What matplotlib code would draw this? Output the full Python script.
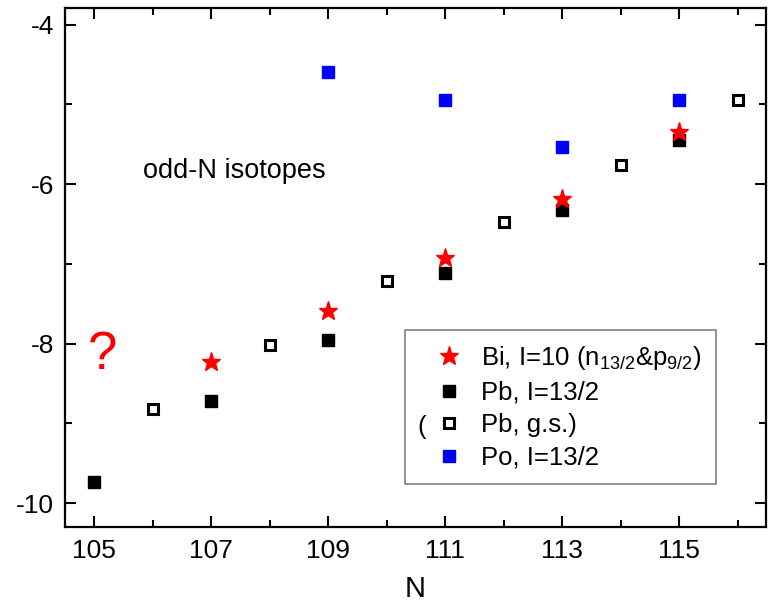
import matplotlib
matplotlib.use("Agg")
import matplotlib.pyplot as plt
from matplotlib.ticker import MultipleLocator
from matplotlib.lines import Line2D

plt.rcParams['font.family'] = ['Liberation Sans', 'DejaVu Sans']
plt.rcParams['mathtext.fontset'] = 'custom'
plt.rcParams['mathtext.rm'] = 'Liberation Sans'
plt.rcParams['mathtext.default'] = 'regular'
plt.rcParams['axes.unicode_minus'] = False

# data
bi_n = [107, 109, 111, 113, 115]
bi_v = [-8.23, -7.59, -6.93, -6.19, -5.35]

pb_n = [105, 107, 109, 111, 113, 115]
pb_v = [-9.74, -8.72, -7.95, -7.11, -6.32, -5.44]

pbgs_n = [106, 108, 110, 112, 114, 116]
pbgs_v = [-8.82, -8.02, -7.21, -6.48, -5.76, -4.95]

po_n = [109, 111, 113, 115]
po_v = [-4.59, -4.95, -5.53, -4.94]

fig = plt.figure(figsize=(7.72, 6.08), dpi=100)
ax = fig.add_axes([65/772, 1 - 527/608, (766-65)/772, (527-8)/608])

ax.plot(pbgs_n, pbgs_v, ls='none', marker='s', ms=7, mfc='white', mec='black', mew=2.2)
ax.plot(pb_n, pb_v, ls='none', marker='s', ms=8, color='black')
ax.plot(bi_n, bi_v, ls='none', marker='*', ms=14, color='red')
ax.plot(po_n, po_v, ls='none', marker='s', ms=8, color='blue')

ax.set_xlim(104.5, 116.48)
ax.set_ylim(-10.3, -3.79)
ax.xaxis.set_minor_locator(MultipleLocator(1))
ax.yaxis.set_major_locator(MultipleLocator(2))
ax.yaxis.set_minor_locator(MultipleLocator(1))
ax.set_xticks([105, 107, 109, 111, 113, 115])
ax.tick_params(which='both', direction='in', top=True, right=True, width=1.5, labelsize=19)
ax.tick_params(which='major', length=8)
ax.tick_params(which='minor', length=5)
ax.tick_params(axis='x', pad=9)
ax.tick_params(axis='y', pad=8)
for s in ax.spines.values():
    s.set_linewidth(1.6)

ax.set_xlabel('N', fontsize=21, labelpad=8)

ax.text(105.84, -5.83, 'odd-N isotopes', fontsize=19.5, va='center', ha='left')
ax.text(105.15, -8.14, '?', fontsize=38, color='red', ha='center', va='center')

handles = [
    Line2D([], [], ls='none', marker='*', ms=14, color='red'),
    Line2D([], [], ls='none', marker='s', ms=8, color='black'),
    Line2D([], [], ls='none', marker='s', ms=7, mfc='white', mec='black', mew=2.2),
    Line2D([], [], ls='none', marker='s', ms=8, color='blue'),
]
labels = [r'Bi, I=10 (n$_{13/2}$&p$_{9/2}$)', 'Pb, I=13/2', 'Pb, g.s.)', 'Po, I=13/2']
leg = ax.legend(handles, labels, loc='upper left', bbox_to_anchor=(405/772, 1 - 330/608),
                bbox_transform=fig.transFigure, fontsize=18.5, frameon=True, fancybox=False,
                edgecolor='gray', framealpha=1, borderpad=0.55, handlelength=2.3,
                handletextpad=0.1, labelspacing=0.33, borderaxespad=0)
leg.get_frame().set_linewidth(1.2)
fig.text(422/772, 1 - 427/608, '(', fontsize=18.5, ha='center', va='center')

fig.savefig('out.png', dpi=100)
